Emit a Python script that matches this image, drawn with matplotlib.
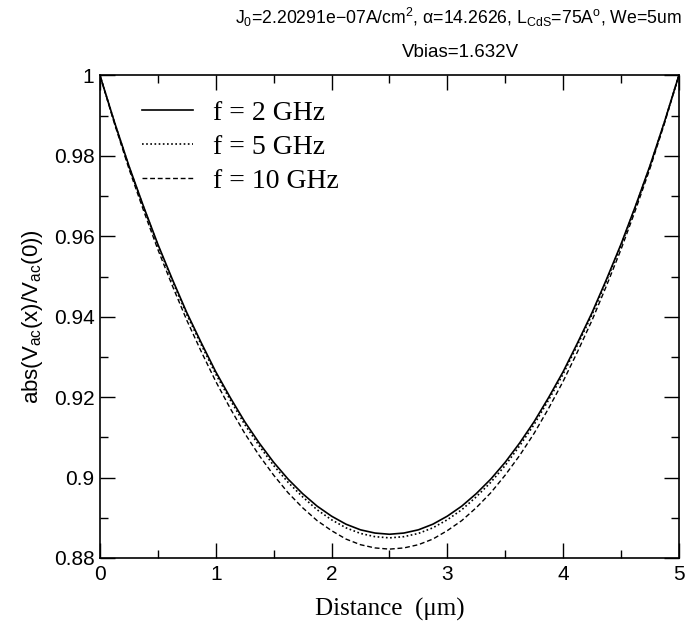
import matplotlib
matplotlib.use("Agg")
import matplotlib.pyplot as plt
from matplotlib.ticker import MultipleLocator, FormatStrFormatter

plt.rcParams['font.family'] = ['Liberation Sans', 'DejaVu Sans']
plt.rcParams['mathtext.fontset'] = 'custom'
plt.rcParams['mathtext.rm'] = 'Liberation Sans'
plt.rcParams['mathtext.it'] = 'Liberation Sans:italic'

# distance along the device (um)
x = [0.0, 0.125, 0.25, 0.375, 0.5, 0.625, 0.75, 0.875, 1.0, 1.125, 1.25,
     1.375, 1.5, 1.625, 1.75, 1.875, 2.0, 2.125, 2.25, 2.375, 2.5,
     2.625, 2.75, 2.875, 3.0, 3.125, 3.25, 3.375, 3.5, 3.625, 3.75,
     3.875, 4.0, 4.125, 4.25, 4.375, 4.5, 4.625, 4.75, 4.875, 5.0]

# |Vac(x)/Vac(0)|
f2 = [1.0000, 0.9884, 0.9775, 0.9675, 0.9580, 0.9493, 0.9410, 0.9335, 0.9263, 0.9199, 0.9139,
      0.9086, 0.9038, 0.8996, 0.8960, 0.8929, 0.8904, 0.8884, 0.8870, 0.8862, 0.8859,
      0.8862, 0.8870, 0.8884, 0.8904, 0.8929, 0.8960, 0.8996, 0.9038, 0.9086, 0.9139,
      0.9199, 0.9263, 0.9335, 0.9410, 0.9493, 0.9580, 0.9675, 0.9775, 0.9884, 1.0000]
f5 = [1.0000, 0.9883, 0.9773, 0.9673, 0.9577, 0.9489, 0.9405, 0.9330, 0.9257, 0.9193, 0.9132,
      0.9079, 0.9030, 0.8988, 0.8952, 0.8920, 0.8895, 0.8875, 0.8861, 0.8853, 0.8850,
      0.8853, 0.8861, 0.8875, 0.8895, 0.8920, 0.8952, 0.8988, 0.9030, 0.9079, 0.9132,
      0.9193, 0.9257, 0.9330, 0.9405, 0.9489, 0.9577, 0.9673, 0.9773, 0.9883, 1.0000]
f10 = [1.0000, 0.9880, 0.9768, 0.9665, 0.9567, 0.9477, 0.9391, 0.9313, 0.9239, 0.9172, 0.9110,
       0.9055, 0.9006, 0.8962, 0.8925, 0.8893, 0.8868, 0.8847, 0.8833, 0.8825, 0.8822,
       0.8825, 0.8833, 0.8847, 0.8868, 0.8893, 0.8925, 0.8962, 0.9006, 0.9055, 0.9110,
       0.9172, 0.9239, 0.9313, 0.9391, 0.9477, 0.9567, 0.9665, 0.9768, 0.9880, 1.0000]

labels = ["f = 2 GHz", "f = 5 GHz", "f = 10 GHz"]

fig = plt.figure(figsize=(6.85, 6.28), dpi=100)
ax = fig.add_axes([0.146, 0.1115, 0.845, 0.7683])

ax.plot(x, f2, color='black', lw=1.2, ls='-', label=labels[0])
ax.plot(x, f5, color='black', lw=1.2, ls=(0, (1, 1.5)), label=labels[1])
ax.plot(x, f10, color='black', lw=1.0, ls=(0, (3.5, 2)), label=labels[2])

ax.set_xlim(0, 5)
ax.set_ylim(0.88, 1.0)
ax.xaxis.set_major_locator(MultipleLocator(1))
ax.xaxis.set_minor_locator(MultipleLocator(0.5))
ax.yaxis.set_major_locator(MultipleLocator(0.02))
ax.yaxis.set_minor_locator(MultipleLocator(0.01))
ax.yaxis.set_major_formatter(FormatStrFormatter('%g'))
ax.tick_params(which='both', direction='in', top=True, right=True, width=1.0,
               labelsize=15, colors='black')
ax.tick_params(which='major', length=11)
ax.tick_params(which='minor', length=6)
ax.tick_params(axis='y', which='major', pad=4)
ax.tick_params(axis='x', which='major', pad=5)
for s in ax.spines.values():
    s.set_linewidth(1.2)

ax.set_xlabel("Distance  (\u03bcm)", family='Liberation Serif', fontsize=18, labelpad=10)
ax.set_ylabel(r"abs(V$_{\rm ac}$(x)/V$_{\rm ac}$(0))", fontsize=16, labelpad=6)

leg = ax.legend(loc='upper left', bbox_to_anchor=(0.0725, 0.948), frameon=False,
                borderpad=0, borderaxespad=0,
                handlelength=1.83, handletextpad=0.72, labelspacing=0.3,
                prop={'family': 'Liberation Serif', 'size': 20})

fig.text(0.669, 0.972,
         "J$_0$=2.20291e\u221207A/cm$^2$, \u03b1=14.2626, L$_{\\rm CdS}$=75A$^{\\rm o}$, We=5um",
         ha='center', va='center', fontsize=12.7)
fig.text(0.672, 0.917, "Vbias=1.632V", ha='center', va='center', fontsize=13.5)

fig.savefig("out.png", dpi=100)
